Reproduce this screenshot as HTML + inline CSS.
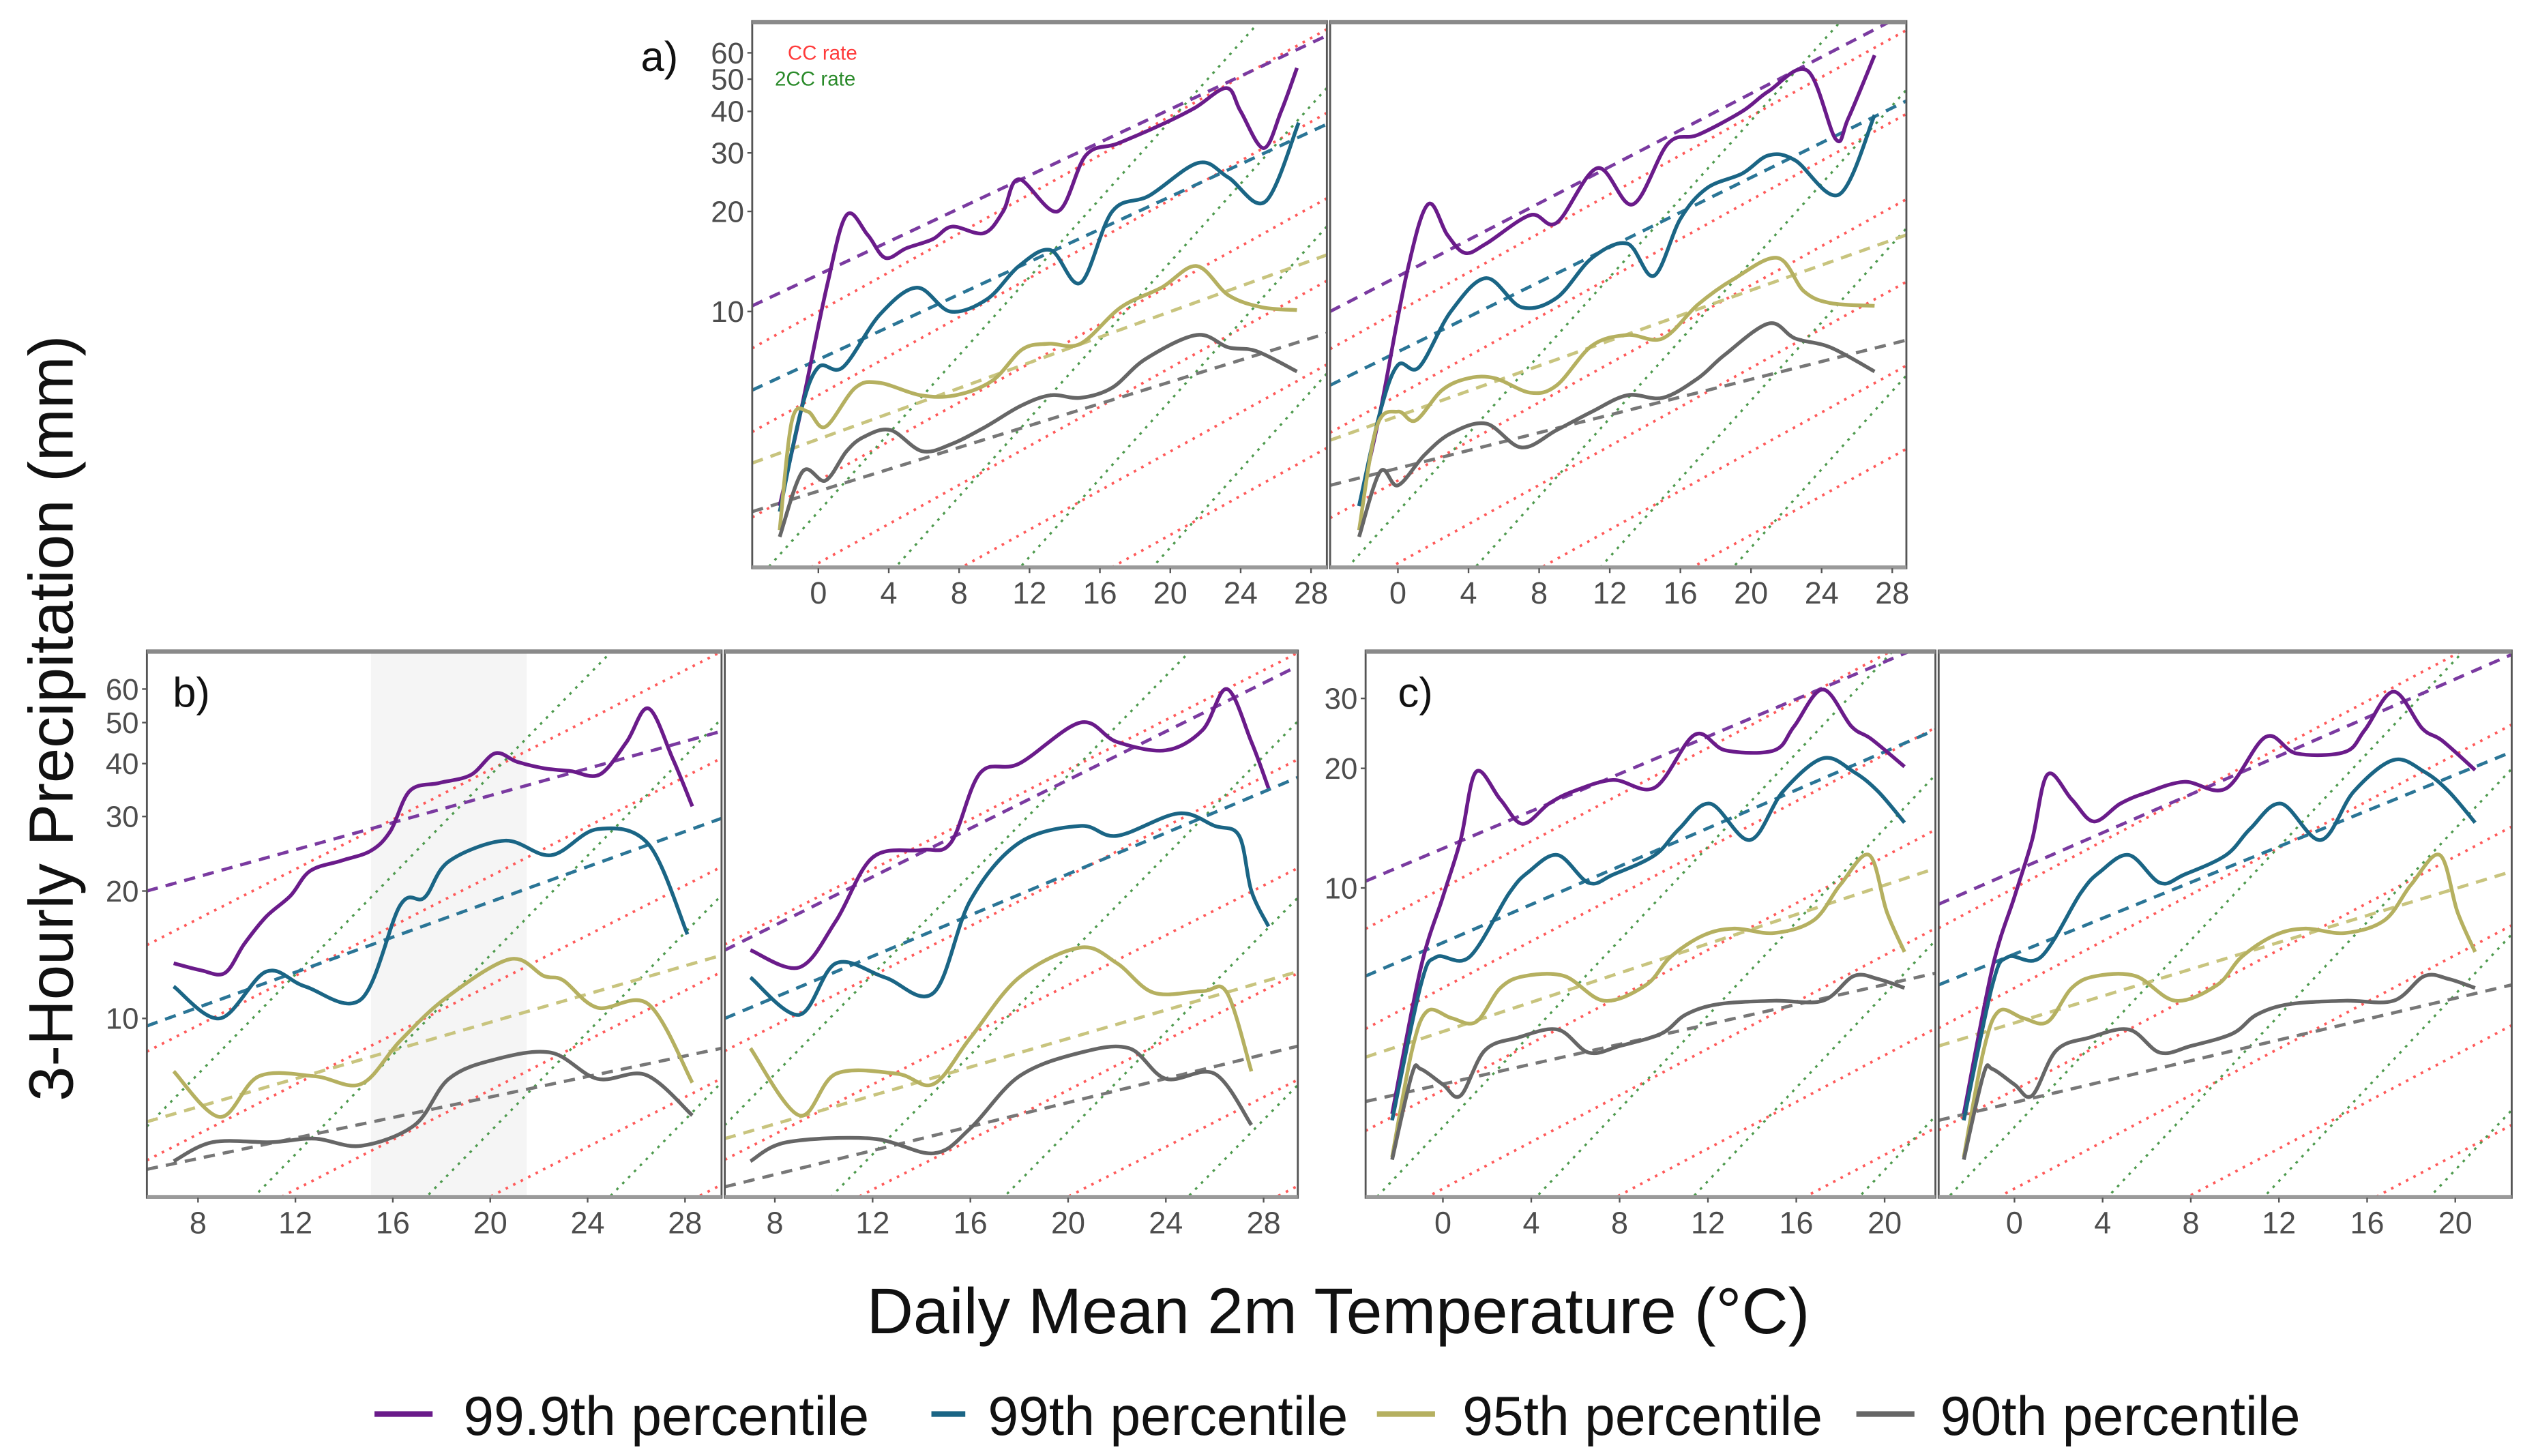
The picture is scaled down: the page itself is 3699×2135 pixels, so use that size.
<!DOCTYPE html>
<html><head><meta charset="utf-8"><style>
html,body{margin:0;padding:0;background:#fff;width:3699px;height:2135px;overflow:hidden;position:relative}
svg{display:block;position:absolute;left:0;top:0;overflow:hidden}
text{font-family:"Liberation Sans",sans-serif}
</style></head><body>
<svg id="fig" width="3699" height="2135" viewBox="0 0 1563 902" preserveAspectRatio="none" xmlns="http://www.w3.org/2000/svg">
<rect x="0" y="0" width="1563" height="902" fill="#fff"/>
<text x="0" y="0" transform="translate(45,445) rotate(-90)" font-size="39" text-anchor="middle" fill="#111">3-Hourly Precipitation (mm)</text>
<text x="829" y="826" font-size="40" text-anchor="middle" fill="#111">Daily Mean 2m Temperature (°C)</text>
<g>
<line x1="232" y1="876" x2="268" y2="876" stroke="#6a1b8a" stroke-width="3.5"/>
<text x="287" y="889" font-size="34" fill="#111">99.9th percentile</text>
<line x1="577" y1="876" x2="598" y2="876" stroke="#1a6585" stroke-width="3.5"/>
<text x="612" y="889" font-size="34" fill="#111">99th percentile</text>
<line x1="853" y1="876" x2="889" y2="876" stroke="#b5b060" stroke-width="3.5"/>
<text x="906" y="889" font-size="34" fill="#111">95th percentile</text>
<line x1="1150" y1="876" x2="1186" y2="876" stroke="#666" stroke-width="3.5"/>
<text x="1202" y="889" font-size="34" fill="#111">90th percentile</text>
</g>
</svg>
<script>
const seriesNames = ["p999","p99","p95","p90"];
const ccAnchors = [0.55,0.98,1.75,3.1,5.6,10];
const cc2Anchors = [0.13,0.36,0.94,2.5];

const aL_p999_t = [-2.2,-1,0.5,1.6,2.8,3.8,5,6.5,7.6,9.4,10.5,11.4,13.6,15.2,17,19.5,21.4,23.2,24,25.3,26.3,27.2];
const aL_p999_v = [2.6,5,12,19.5,17,14.5,15.5,16.5,18,17.2,20,25,20,29.5,32,36.5,41,47,40,31,40,54];
const aL_p99_t = [-2.2,-1,0,1.4,3.5,5.6,7.5,9.6,11.4,13.2,14.9,16.7,18.8,21.6,23.3,25.4,27.3];
const aL_p99_v = [2.5,5,6.8,6.8,9.8,11.8,10,10.9,13.7,15.3,12.2,20,22.3,28,25.3,21.4,37];
const aL_p95_t = [-2.2,-1.5,-0.6,0.4,2.1,3.5,5.8,7.8,9.9,11.6,13.1,14.9,17.2,19.5,21.5,23.3,25.2,27.2];
const aL_p95_v = [2.2,4.7,5,4.5,5.9,6.1,5.6,5.6,6.2,7.7,8,8,10.3,11.8,13.7,11.2,10.3,10.1];
const aL_p90_t = [-2.2,-0.9,0.4,1.6,2.6,4.1,5.9,7.6,9.5,11.5,13.2,14.9,16.7,18.6,21.5,23.3,24.9,27.2];
const aL_p90_v = [2.1,3.3,3.1,3.8,4.2,4.4,3.8,4,4.5,5.2,5.6,5.5,5.9,7.2,8.5,7.8,7.6,6.6];
const aL_fitStart = [10.4,5.8,3.5,2.5];
const aL_fitEnd = [67.6,36.6,14.8,8.6];

const aR_p999_t = [-2.2,-1,0.5,1.7,2.8,3.8,5,7.5,9,11.3,13.3,15.3,17,19.5,21,23.2,24.8,25.5,27];
const aR_p999_v = [2.6,5,13,21,17,15,16,19.5,18.5,27,21,32,34,40,46,53,33,38,59];
const aR_p99_t = [-2.2,-1,0,1.2,3,5,7,9,11,13,14.5,16,17.5,19.5,21,22.5,25,27];
const aR_p99_v = [2.6,5,6.9,6.8,10,12.6,10.3,11,14.5,16,12.8,19,23.5,26,29.5,28.5,22.5,39];
const aR_p95_t = [-2.2,-1.2,0,1,2.5,4,5.5,7.5,9,11,13,15,17,19,21.5,23,24.5,27];
const aR_p95_v = [2.2,4.5,5,4.7,5.8,6.3,6.3,5.7,6,7.9,8.5,8.3,10.5,12.5,14.5,11.5,10.6,10.4];
const aR_p90_t = [-2.2,-1,0,1.5,3,5,7,9,11,13,15,17,18.5,21,22.5,24.5,27];
const aR_p90_v = [2.1,3.3,3,3.7,4.3,4.6,3.9,4.4,5,5.6,5.5,6.3,7.4,9.2,8.3,7.8,6.6];
const aR_fitStart = [10,6,4.1,3.0];
const aR_fitEnd = [79,43,17,8.2];

const bL_p999_t = [7,8.1,9.1,9.9,10.8,11.8,12.6,13.9,15.1,15.9,16.7,17.9,19.2,20.2,21.1,22.2,23.3,24.5,25.6,26.5,27.5,28.3];
const bL_p999_v = [13.5,13,12.8,15,17.4,19.5,22.3,23.6,24.9,27.7,34.5,36,37.6,42.3,40.4,39,38.4,37.7,45,54,41,31.7];
const bL_p99_t = [7,8.9,10.8,12.4,14.7,16.3,17.3,18.3,20.6,22.5,24.4,26.5,28.1];
const bL_p99_v = [11.9,10,12.9,11.9,11.1,18.5,19.3,23.5,26.3,24.3,28,25.8,15.8];
const bL_p95_t = [7,8.9,10.5,12.8,14.7,16.3,18.2,20.8,22.2,23,24.4,26.5,28.3];
const bL_p95_v = [7.5,5.85,7.3,7.3,7,8.85,11.2,13.8,12.6,12.3,10.6,10.8,7.05];
const bL_p90_t = [7,8.6,11,12.8,14.7,16.9,18.3,20.2,22.5,24.4,26.4,28.3];
const bL_p90_v = [4.6,5.1,5.1,5.2,5,5.6,7.2,8,8.3,7.2,7.35,5.9];
const bL_fitStart = [20,9.6,5.7,4.4];
const bL_fitEnd = [47.7,29.7,14.1,8.5];

const bR_p999_t = [7,9,10.5,12,14,15.2,16.4,18,20.5,22,24,25.5,26.5,27.5,28.2];
const bR_p999_v = [14.5,13.2,17,24,25,26,38,40,50,45,43,48,60,45,35];
const bR_p99_t = [7,9,10.5,12.5,14.5,16,18,20.5,22,24.5,26,27,27.5,28.2];
const bR_p99_v = [12.5,10.2,13.5,12.5,11.5,19,26,28.5,27,30.5,28.5,27,20,16.5];
const bR_p95_t = [7,9,10.5,13,14.5,16,18,20.5,22,23.5,25.5,26.5,27.5];
const bR_p95_v = [8.5,5.9,7.4,7.4,7,9,12.5,14.7,13.5,11.5,11.6,11.5,7.5];
const bR_p90_t = [7,8.5,12,14.5,16,18,20.5,22.5,24,26,27.5];
const bR_p90_v = [4.6,5.1,5.2,4.8,5.5,7.3,8.3,8.5,7.2,7.4,5.6];
const bR_fitStart = [14.5,10,5.2,4.0];
const bR_fitEnd = [68,37.1,12.9,8.6];

const cL_p999_t = [-2.3,-1,0,0.8,1.5,2.6,3.6,4.8,5.9,7.7,9.6,11.4,12.8,15,15.9,17.2,18.5,19.4,20.9];
const cL_p999_v = [2.7,6.3,9.5,13.2,19.6,16.7,14.5,16.3,17.5,18.7,17.9,24.3,22.2,22.2,25.5,31.6,25.5,23.7,20.2];
const cL_p99_t = [-2.3,-1,-0.3,1.2,3,3.9,5.2,6.6,7.7,9.6,10.7,12.1,13.9,15.4,17.2,18.6,19.7,20.9];
const cL_p99_v = [2.6,5.7,6.7,6.7,9.7,11,12.1,10.3,10.8,12.1,14.1,16.3,13.2,17.5,21.2,19.6,17.5,14.6];
const cL_p95_t = [-2.3,-1.4,-0.7,0.4,1.5,2.6,3.7,5.5,7.3,9.2,10.3,11.8,13.2,15,16.8,18,19.3,20.1,20.9];
const cL_p95_v = [2.1,3.9,4.9,4.7,4.6,5.6,6,6,5.2,5.7,6.7,7.6,7.9,7.7,8.3,10.2,12.1,8.7,6.9];
const cL_p90_t = [-2.3,-1.4,-1,0,0.8,1.9,3.4,5.2,6.6,8,9.9,11,12.5,15,17.2,18.6,19.7,20.9];
const cL_p90_v = [2.07,3.4,3.5,3.2,3,3.9,4.2,4.4,3.85,4,4.3,4.8,5.1,5.2,5.2,6,5.9,5.6];
const cL_fitStart = [10.4,6,3.75,2.9];
const cL_fitEnd = [42,25,11.2,6.1];

const cR_p999_t = [-2.3,-1,0,0.8,1.5,2.6,3.6,4.8,5.9,7.7,9.6,11.4,12.8,15,15.9,17.2,18.5,19.4,20.9];
const cR_p999_v = [2.7,6.3,9.5,13.2,19.3,16.7,14.7,16.3,17.3,18.5,17.8,24,21.8,22,25,31.2,25.2,23.5,19.8];
const cR_p99_t = [-2.3,-1,-0.3,1.2,3,3.9,5.2,6.6,7.7,9.6,10.7,12.1,13.9,15.4,17.2,18.6,19.7,20.9];
const cR_p99_v = [2.6,5.7,6.7,6.7,9.7,11,12.1,10.3,10.8,12.1,14.1,16.3,13.2,17.5,21,19.6,17.5,14.6];
const cR_p95_t = [-2.3,-1.4,-0.7,0.4,1.5,2.6,3.7,5.5,7.3,9.2,10.3,11.8,13.2,15,16.8,18,19.3,20.1,20.9];
const cR_p95_v = [2.1,3.9,4.9,4.7,4.6,5.6,6,6,5.2,5.7,6.7,7.6,7.9,7.7,8.3,10.2,12.1,8.7,6.9];
const cR_p90_t = [-2.3,-1.4,-1,0,0.8,1.9,3.4,5.2,6.6,8,9.9,11,12.5,15,17.2,18.6,19.7,20.9];
const cR_p90_v = [2.07,3.4,3.5,3.2,3,3.9,4.2,4.4,3.85,4,4.3,4.8,5.1,5.2,5.2,6,5.9,5.6];
const cR_fitStart = [9.1,5.7,4.0,2.6];
const cR_fitEnd = [38.7,22,11,5.7];

const xTicksA = [0,4,8,12,16,20,24,28];
const xTicksB = [8,12,16,20,24,28];
const xTicksC = [0,4,8,12,16,20];
const yTicksA = [10,20,30,40,50,60];
const yTicksB = [10,20,30,40,50,60];
const yTicksC = [10,20,30];

const colors = {p999:"#6a1b8a",p99:"#1a6585",p95:"#b5b060",p90:"#666666"};
const fitColors = {p999:"#7a3aa0",p99:"#2a7596",p95:"#c8c47e",p90:"#777777"};
const panels = [
 {id:"a-left",x0:466,x1:822,y0:13,y1:352,tmin:-3.76,tmax:28.9,vmin:1.69,vmax:74.8,xt:xTicksA,yt:yTicksA,showY:true,label:"a)",lx:397,ly:44,
  d:{p999:[aL_p999_t,aL_p999_v],p99:[aL_p99_t,aL_p99_v],p95:[aL_p95_t,aL_p95_v],p90:[aL_p90_t,aL_p90_v]},fs:aL_fitStart,fe:aL_fitEnd,legend:true},
 {id:"a-right",x0:824,x1:1181,y0:13,y1:352,tmin:-3.84,tmax:28.8,vmin:1.69,vmax:74.8,xt:xTicksA,yt:yTicksA,showY:false,
  d:{p999:[aR_p999_t,aR_p999_v],p99:[aR_p99_t,aR_p99_v],p95:[aR_p95_t,aR_p95_v],p90:[aR_p90_t,aR_p90_v]},fs:aR_fitStart,fe:aR_fitEnd},
 {id:"b-left",x0:91,x1:447,y0:403,y1:742,tmin:5.9,tmax:29.5,vmin:3.77,vmax:74,xt:xTicksB,yt:yTicksB,showY:true,label:"b)",lx:107,ly:438,shade:[15.1,21.5],
  d:{p999:[bL_p999_t,bL_p999_v],p99:[bL_p99_t,bL_p99_v],p95:[bL_p95_t,bL_p95_v],p90:[bL_p90_t,bL_p90_v]},fs:bL_fitStart,fe:bL_fitEnd},
 {id:"b-right",x0:449,x1:804,y0:403,y1:742,tmin:5.95,tmax:29.4,vmin:3.77,vmax:74,xt:xTicksB,yt:yTicksB,showY:false,
  d:{p999:[bR_p999_t,bR_p999_v],p99:[bR_p99_t,bR_p99_v],p95:[bR_p95_t,bR_p95_v],p90:[bR_p90_t,bR_p90_v]},fs:bR_fitStart,fe:bR_fitEnd},
 {id:"c-left",x0:846,x1:1199,y0:403,y1:742,tmin:-3.5,tmax:22.3,vmin:1.66,vmax:39.6,xt:xTicksC,yt:yTicksC,showY:true,label:"c)",lx:866,ly:438,
  d:{p999:[cL_p999_t,cL_p999_v],p99:[cL_p99_t,cL_p99_v],p95:[cL_p95_t,cL_p95_v],p90:[cL_p90_t,cL_p90_v]},fs:cL_fitStart,fe:cL_fitEnd},
 {id:"c-right",x0:1201,x1:1556,y0:403,y1:742,tmin:-3.44,tmax:22.56,vmin:1.66,vmax:39.6,xt:xTicksC,yt:yTicksC,showY:false,
  d:{p999:[cR_p999_t,cR_p999_v],p99:[cR_p99_t,cR_p99_v],p95:[cR_p95_t,cR_p95_v],p90:[cR_p90_t,cR_p90_v]},fs:cR_fitStart,fe:cR_fitEnd}
];
const NS="http://www.w3.org/2000/svg";
const svg=document.getElementById("fig");
function mk(tag,attrs,parent){const e=document.createElementNS(NS,tag);for(const k in attrs)e.setAttribute(k,attrs[k]);(parent||svg).appendChild(e);return e;}
function spline(pts){
  let d="M"+pts[0][0].toFixed(2)+","+pts[0][1].toFixed(2);
  for(let i=0;i<pts.length-1;i++){
    const p0=pts[Math.max(0,i-1)],p1=pts[i],p2=pts[i+1],p3=pts[Math.min(pts.length-1,i+2)];
    const c1=[p1[0]+(p2[0]-p0[0])/6,p1[1]+(p2[1]-p0[1])/6];
    const c2=[p2[0]-(p3[0]-p1[0])/6,p2[1]-(p3[1]-p1[1])/6];
    d+="C"+c1[0].toFixed(2)+","+c1[1].toFixed(2)+" "+c2[0].toFixed(2)+","+c2[1].toFixed(2)+" "+p2[0].toFixed(2)+","+p2[1].toFixed(2);
  }
  return d;
}
const defs=mk("defs",{});
panels.forEach((P,pi)=>{
  const X=t=>P.x0+(t-P.tmin)/(P.tmax-P.tmin)*(P.x1-P.x0);
  const Y=v=>P.y1-(Math.log10(v)-Math.log10(P.vmin))/(Math.log10(P.vmax)-Math.log10(P.vmin))*(P.y1-P.y0);
  const g=mk("g",{});
  
  
  const cp=mk("clipPath",{id:"clip"+pi},defs);
  mk("rect",{x:P.x0,y:P.y0,width:P.x1-P.x0,height:P.y1-P.y0},cp);
  const inner=mk("g",{"clip-path":"url(#clip"+pi+")"},g);
  if(P.shade){
    const s=mk("rect",{x:X(P.shade[0]),y:P.y0,width:X(P.shade[1])-X(P.shade[0]),height:P.y1-P.y0,fill:"#f5f5f5"},inner);
    
    
  }
  ccAnchors.forEach(a=>{
    const l=mk("line",{x1:X(P.tmin),y1:Y(a*Math.pow(1.07,P.tmin)),x2:X(P.tmax),y2:Y(a*Math.pow(1.07,P.tmax)),stroke:"#ff5a5a","stroke-width":1.6,"stroke-dasharray":"1.6 3.6"},inner);
    
    
  });
  cc2Anchors.forEach(a=>{
    const l=mk("line",{x1:X(P.tmin),y1:Y(a*Math.pow(1.145,P.tmin)),x2:X(P.tmax),y2:Y(a*Math.pow(1.145,P.tmax)),stroke:"#4e9a4e","stroke-width":1.4,"stroke-dasharray":"1.6 3.6"},inner);
    
    
  });
  seriesNames.forEach((s,i)=>{
    const l=mk("line",{x1:X(P.tmin),y1:Y(P.fs[i]),x2:X(P.tmax),y2:Y(P.fe[i]),stroke:fitColors[s],"stroke-width":2,"stroke-dasharray":"7 5"},inner);
    
    
  });
  seriesNames.forEach(s=>{
    const [ts,vs]=P.d[s];
    const pts=ts.map((t,i)=>[X(t),Y(vs[i])]);
    const p=mk("path",{d:spline(pts),fill:"none",stroke:colors[s],"stroke-width":2.3,"stroke-linejoin":"round"},inner);
    
    
  });
  const fr=mk("rect",{x:P.x0,y:P.y0,width:P.x1-P.x0,height:P.y1-P.y0,fill:"none",stroke:"#555","stroke-width":1.2},g);
  
  
  mk("line",{x1:P.x0,y1:P.y0+0.8,x2:P.x1,y2:P.y0+0.8,stroke:"#8a8a8a","stroke-width":2.4},g);
  mk("line",{x1:P.x0,y1:P.y1-0.5,x2:P.x1,y2:P.y1-0.5,stroke:"#9a9a9a","stroke-width":2.4},g);
  P.xt.forEach(t=>{
    mk("line",{x1:X(t),y1:P.y1,x2:X(t),y2:P.y1+3,stroke:"#555","stroke-width":1},g);
    const tx=mk("text",{x:X(t),y:P.y1+22,"font-size":19,"text-anchor":"middle",fill:"#4d4d4d"},g);
    tx.textContent=t;
    
    
  });
  if(P.showY){
    P.yt.forEach(v=>{
      mk("line",{x1:P.x0-3,y1:Y(v),x2:P.x0,y2:Y(v),stroke:"#555","stroke-width":1},g);
      const tx=mk("text",{x:P.x0-5,y:Y(v)+6.5,"font-size":18.5,"text-anchor":"end",fill:"#4d4d4d"},g);
      tx.textContent=v;
      
      
    });
    const lb=mk("text",{x:P.lx,y:P.ly,"font-size":26,fill:"#111"},g);
    lb.textContent=P.label;
    
    
  }
  if(P.legend){
    const t1=mk("text",{x:488,y:37,"font-size":12.5,fill:"#ff3b3b"},g);
    t1.textContent="CC rate";
    
    
    const t2=mk("text",{x:480,y:53,"font-size":12.5,fill:"#2a8a2a"},g);
    t2.textContent="2CC rate";
    
    
  }
});
</script>
</body></html>
